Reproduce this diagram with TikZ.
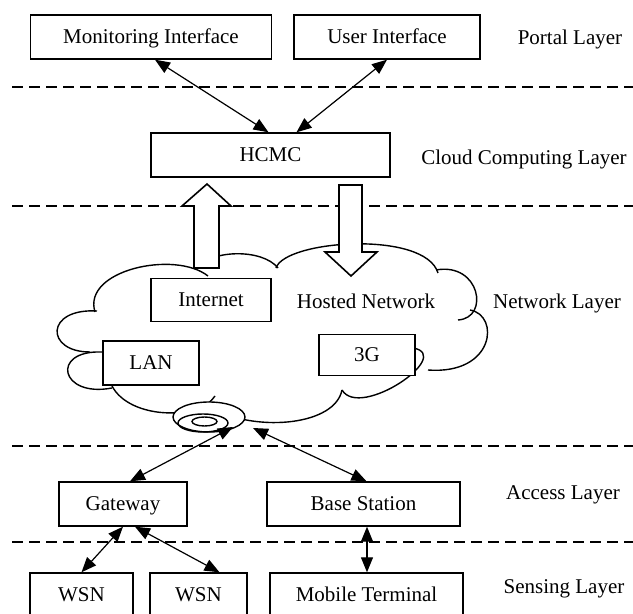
\documentclass[tikz,border=0pt]{standalone}
\usepackage{fontspec}
\setmainfont{Liberation Serif}
\usetikzlibrary{arrows.meta,calc}

\begin{document}
\begin{tikzpicture}[%
  x=0.5pt, y=-0.5pt,
  font=\fontsize{10.5}{12}\selectfont,
  every node/.style = {text height=7pt, text depth=0pt},
  unit/.style = {draw, line width=0.7pt, fill=white, inner sep=0pt, minimum height=22pt},
  layer/.style = {inner sep=0pt},
  sep/.style = {line width=1pt, dash pattern=on 5.5pt off 3pt},
  link/.style = {line width=0.6pt, <->},
  puff/.style = {line width=0.7pt},
  fat/.style = {draw, line width=0.8pt, fill=white},
  >={Triangle[length=7.5pt,width=6pt]},
]

  \useasboundingbox (0,0) rectangle (633,614);

  % layer borders
  \draw[sep] (12,87) -- (633,87);
  \draw[sep] (12,206) -- (633,206);
  \draw[sep] (12,446) -- (633,446);
  \draw[sep] (12,542) -- (633,542);

  % cloud
  \draw[puff] (95,312) .. controls (82,270) and (175,250) .. (208,276);
  \draw[puff] (198,268) .. controls (210,250) and (262,248) .. (278,268);
  \draw[puff] (276,268) .. controls (285,240) and (425,230) .. (438,273);
  \draw[puff] (436,270) .. controls (480,262) and (490,318) .. (458,320);
  \draw[puff] (470,310) .. controls (500,315) and (495,375) .. (428,370);
  \draw[puff] (413,348) .. controls (455,355) and (360,420) .. (342,390);
  \draw[puff] (342,390) .. controls (335,425) and (260,432) .. (215,410);
  \draw[puff] (215,396) .. controls (200,420) and (130,420) .. (112,386);
  \draw[puff] (112,388) .. controls (60,398) and (50,350) .. (102,352);
  \draw[puff] (90,352) .. controls (45,352) and (45,308) .. (97,311);

  % disk
  \draw[puff, fill=white] (209,417) ellipse [x radius=36, y radius=15];
  \draw[puff] (203,423) ellipse [x radius=25, y radius=9];
  \draw[puff] (204.5,421.5) ellipse [x radius=12.5, y radius=4.5];
  \coordinate (diskl) at (233,427);
  \coordinate (diskr) at (253,428);

  % hollow arrows
  \draw[fat] (194,268) -- (194,206) -- (182,206) -- (207,184) -- (231,206)
    -- (219,206) -- (219,268) -- cycle;
  \draw[fat] (339,185) -- (362,185) -- (362,252) -- (377,252) -- (351,276)
    -- (325,252) -- (339,252) -- cycle;

  \node[unit, minimum width=120.5pt] (mon) at (151,37) {Monitoring Interface};
  \node[unit, minimum width=93pt] (usr) at (387,37) {User Interface};
  \node[layer] (portal) at (570,38) {Portal Layer};

  \node[unit, minimum width=119.5pt] (hcmc) at (270.5,155) {HCMC};
  \node[layer] (cloudl) at (524,158) {Cloud Computing Layer};

  \node[unit, minimum width=60pt, minimum height=21.5pt] (inet) at (211,300) {Internet};
  \node[layer] (hosted) at (366,302) {Hosted Network};
  \node[layer] (netl) at (557,302) {Network Layer};
  \node[unit, minimum width=48pt] (lan) at (151,363) {LAN};
  \node[unit, minimum width=48pt, minimum height=20.5pt] (tg) at (367,355) {3G};

  \node[unit, minimum width=64pt] (gw) at (123,504) {Gateway};
  \node[unit, minimum width=96.5pt] (bs) at (363.5,504) {Base Station};
  \node[layer] (access) at (563,493) {Access Layer};

  \node[unit, minimum width=51.5pt] (wsna) at (81.5,595) {WSN};
  \node[unit, minimum width=48.5pt] (wsnb) at (198.5,595) {WSN};
  \node[unit, minimum width=96.5pt] (mob) at (366.5,595) {Mobile Terminal};
  \node[layer] (sensing) at (564,587) {Sensing Layer};

  \draw[link] ($(mon.south)+(4,0)$) -- ($(hcmc.north)+(-2,0)$);
  \draw[link] (usr.south) -- ($(hcmc.north)+(26,0)$);
  \draw[link] ($(gw.north)+(7,0)$) -- (diskl);
  \draw[link] ($(bs.north)+(3,0)$) -- (diskr);
  \draw[link] (gw.south) -- (wsna.north);
  \draw[link] ($(gw.south)+(12,0)$) -- ($(wsnb.north)+(21,0)$);
  \draw[link] ($(bs.south)+(3.5,0)$) -- ($(mob.north)+(0.5,0)$);

\end{tikzpicture}
\end{document}
